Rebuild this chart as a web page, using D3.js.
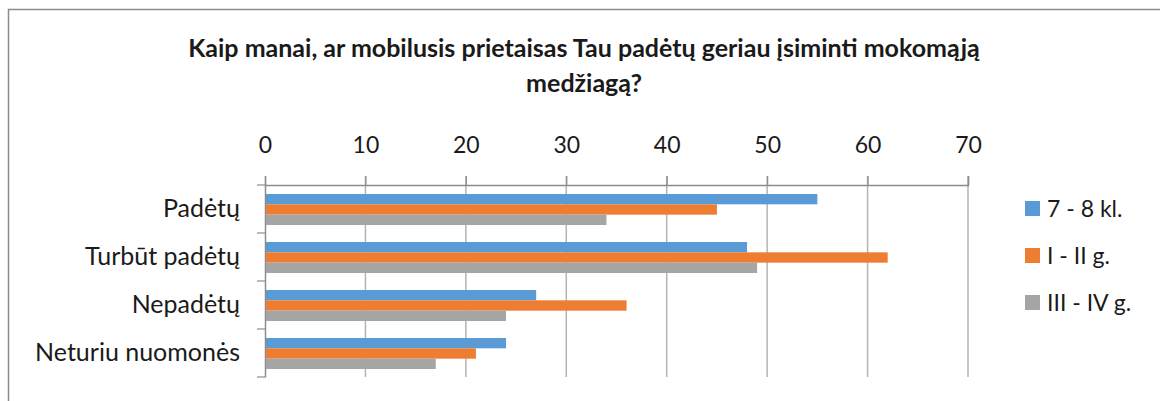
<!DOCTYPE html>
<html>
<head>
<meta charset="utf-8">
<script src="https://cdn.jsdelivr.net/npm/d3@7"></script>
<style>
  body { margin: 0; background: #fff; }
  text { font-family: Lato, "Open Sans", sans-serif; fill: #1a1a1a; }
</style>
</head>
<body>
<script>
// answers to the question, by school group

var categories = ["Padėtų", "Turbūt padėtų", "Nepadėtų", "Neturiu nuomonės"];
var seriesNames = ["7 - 8 kl.", "I - II g.", "III - IV g."];
var kl78 = [55, 48, 27, 24];
var g12 = [45, 62, 36, 21];
var g34 = [34, 49, 24, 17];
var xTicks = [0, 10, 20, 30, 40, 50, 60, 70];
var titleLines = ["Kaip manai, ar mobilusis prietaisas Tau padėtų geriau įsiminti mokomąją", "medžiagą?"];

var col = ["#5b9bd5", "#ed7d31", "#a5a5a5"];
var all = [kl78, g12, g34];

var width = 1160, height = 401;

var svg = d3.select("body").append("svg")
  .attr("width", width)
  .attr("height", height);

// chart frame (runs off the right and bottom of the picture)
svg.append("rect")
  .attr("x", 8.5).attr("y", 9.5)
  .attr("width", 1200).attr("height", 500)
  .attr("fill", "#fff")
  .attr("stroke", "#8c8c8c")
  .attr("stroke-width", 1.5);

svg.append("g").selectAll("text")
  .data(titleLines)
  .enter().append("text")
  .attr("x", 584)
  .attr("y", function(d, i) { return 57 + i * 35; })
  .attr("text-anchor", "middle")
  .style("font-size", "25px")
  .style("font-weight", "bold")
  .text(function(d) { return d; });

var x = d3.scaleLinear().domain([0, 70]).range([265, 968]);
var y = d3.scaleBand().domain(categories).range([185, 377]);
var inner = d3.scaleBand().domain(d3.range(3)).range([9, y.bandwidth() - 8]);

// vertical gridlines
svg.append("g").selectAll("line")
  .data(xTicks.slice(1))
  .enter().append("line")
  .attr("x1", function(d) { return x(d); })
  .attr("x2", function(d) { return x(d); })
  .attr("y1", 176).attr("y2", 377)
  .attr("stroke", "#b3b3b3")
  .attr("stroke-width", 1.5);

// top axis
var xAxis = svg.append("g")
  .attr("transform", "translate(0,185)")
  .call(d3.axisTop(x).tickValues(xTicks).tickSize(9).tickPadding(23));
xAxis.select(".domain").attr("stroke", "#8c8c8c").attr("stroke-width", 1.5);
xAxis.selectAll(".tick line").attr("stroke", "#8c8c8c").attr("stroke-width", 1.2);
xAxis.selectAll(".tick text")
  .style("font-size", "23px")
  .style("font-family", "Lato, sans-serif")
  .attr("fill", "#1a1a1a");

// left axis
var yAxis = svg.append("g")
  .attr("transform", "translate(265,0)")
  .call(d3.axisLeft(y).tickSize(0).tickPadding(25));
yAxis.select(".domain").attr("stroke", "#8c8c8c").attr("stroke-width", 1.5);
yAxis.selectAll(".tick text")
  .style("font-size", "25px")
  .style("font-family", "Lato, sans-serif")
  .attr("fill", "#1a1a1a");
svg.append("g").selectAll("line")
  .data(d3.range(categories.length + 1))
  .enter().append("line")
  .attr("x1", 257).attr("x2", 265)
  .attr("y1", function(d) { return 185 + d * y.step(); })
  .attr("y2", function(d) { return 185 + d * y.step(); })
  .attr("stroke", "#8c8c8c")
  .attr("stroke-width", 1.2);

// bars
all.forEach(function(series, i) {
  svg.append("g").selectAll("rect")
    .data(series)
    .enter().append("rect")
    .attr("x", x(0) + 1)
    .attr("y", function(d, j) { return y(categories[j]) + inner(i); })
    .attr("width", function(d) { return x(d) - x(0) - 1; })
    .attr("height", inner.bandwidth())
    .attr("fill", col[i]);
});

// legend
var legend = svg.append("g").selectAll("g")
  .data(seriesNames)
  .enter().append("g")
  .attr("transform", function(d, i) { return "translate(1025," + (201 + i * 47) + ")"; });
legend.append("rect")
  .attr("width", 15).attr("height", 15)
  .attr("fill", function(d, i) { return col[i]; });
legend.append("text")
  .attr("x", 22).attr("y", 16)
  .style("font-size", "23px")
  .text(function(d) { return d; });
</script>
</body>
</html>
